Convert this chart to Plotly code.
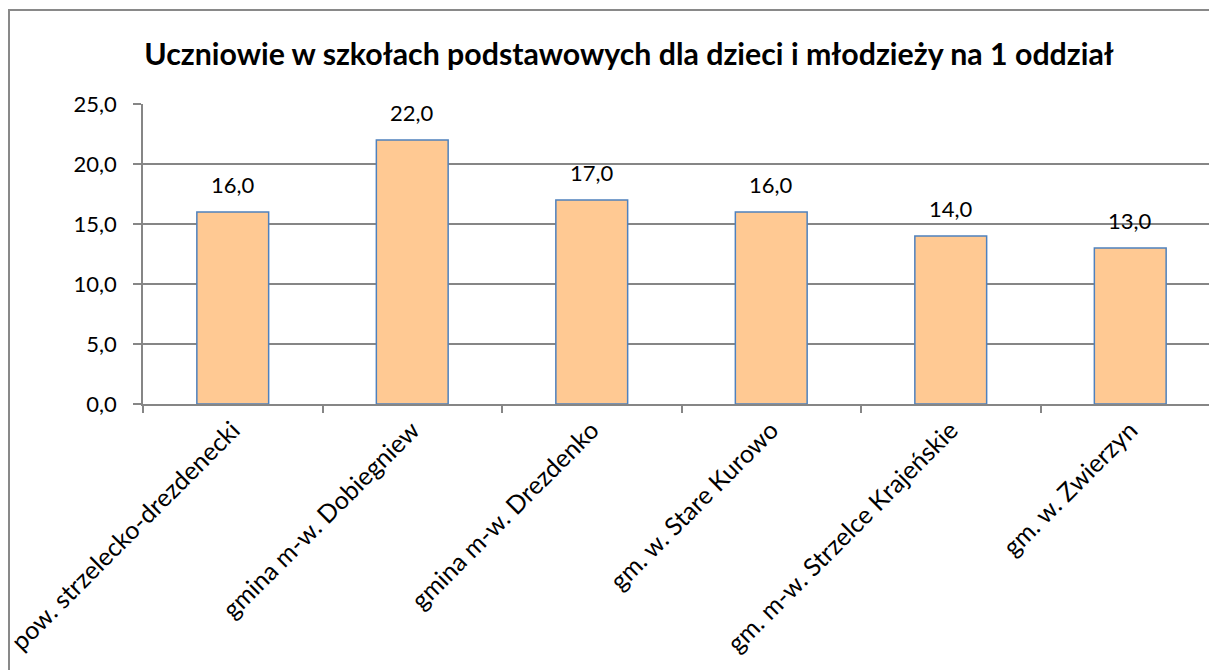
import plotly.graph_objects as go

categories = [
    "pow. strzelecko-drezdenecki",
    "gmina m-w. Dobiegniew",
    "gmina m-w. Drezdenko",
    "gm. w. Stare Kurowo",
    "gm. m-w. Strzelce Krajeńskie",
    "gm. w. Zwierzyn",
]
values = [16.0, 22.0, 17.0, 16.0, 14.0, 13.0]
value_labels = ["16,0", "22,0", "17,0", "16,0", "14,0", "13,0"]
y_ticks = [0, 5, 10, 15, 20, 25]
y_tick_labels = ["0,0", "5,0", "10,0", "15,0", "20,0", "25,0"]
title = "Uczniowie w szkołach podstawowych dla dzieci i młodzieży na 1 oddział"

FONT = "Lato"
FS_NUM = 22
FS_CAT = 25
W, H = 1209, 670
# outer chart frame at left=10px, top=11px; plot area 143..(cut at right) x 104..404
FL, FT = 10, 11
PL, PT, PB = 143, 104, 404
rw = W - FL
rh = H - FT
GRID = "#868686"
FRAME = "#898989"

fig = go.Figure()
fig.add_trace(go.Bar(
    x=categories,
    y=values,
    width=0.4,
    marker=dict(color="#FFC993", line=dict(color="#4F81BD", width=1.5)),
    hoverinfo="skip",
))
# empty trace that carries the frame axes (left and top edge of the chart frame)
fig.add_trace(go.Scatter(x=[], y=[], xaxis="x2", yaxis="y2", hoverinfo="skip"))

for c, v, t in zip(categories, values, value_labels):
    fig.add_annotation(x=c, y=v, text=t, showarrow=False, yanchor="bottom",
                       yshift=12, font=dict(family=FONT, size=FS_NUM, color="#000000"))

cat_px = 179.5
right = -0.5 + (W - PL) / cat_px

fig.update_layout(
    width=W, height=H,
    margin=dict(l=FL, r=0, t=FT, b=0, pad=0),
    paper_bgcolor="white", plot_bgcolor="rgba(0,0,0,0)",
    showlegend=False,
    title=dict(text="<b>" + title + "</b>", x=629 / W, xanchor="center",
               y=1 - 54 / H, yanchor="middle",
               font=dict(family=FONT, size=30.3, color="#000000")),
    xaxis=dict(
        type="category",
        automargin=False,
        domain=[(PL - FL) / rw, 1],
        anchor="y",
        range=[-0.5, right],
        tickangle=-45,
        tickson="boundaries",
        ticks="outside", ticklen=7, tickcolor=GRID, tickwidth=1.5,
        showline=True, linecolor=GRID, linewidth=1.5,
        showgrid=False, zeroline=False,
        tickfont=dict(family=FONT, size=FS_CAT, color="#000000"),
    ),
    yaxis=dict(
        automargin=False,
        domain=[(H - PB) / rh, (H - PT) / rh],
        anchor="x",
        range=[0, 25],
        tickmode="array", tickvals=y_ticks, ticktext=y_tick_labels,
        ticks="outside", ticklen=8, tickcolor=GRID, tickwidth=1.5,
        ticklabelstandoff=12,
        showline=True, linecolor=GRID, linewidth=1.5,
        showgrid=True, gridcolor=GRID, gridwidth=1.5,
        zeroline=False,
        tickfont=dict(family=FONT, size=FS_NUM, color="#000000"),
    ),
    xaxis2=dict(
        automargin=False,
        domain=[0, 1], anchor="y2", side="top", range=[0, 1],
        showline=True, linecolor=FRAME, linewidth=1.5,
        showgrid=False, zeroline=False, showticklabels=False, ticks="",
    ),
    yaxis2=dict(
        automargin=False,
        domain=[0, 1], anchor="x2", side="left", range=[0, 1],
        showline=True, linecolor=FRAME, linewidth=1.5,
        showgrid=False, zeroline=False, showticklabels=False, ticks="",
    ),
)

fig.write_html(
    "out.html", config={"displayModeBar": False},
    post_script=("document.documentElement.style.overflow='hidden';"
                 "document.body.style.margin='0';document.body.style.overflow='hidden';"))
